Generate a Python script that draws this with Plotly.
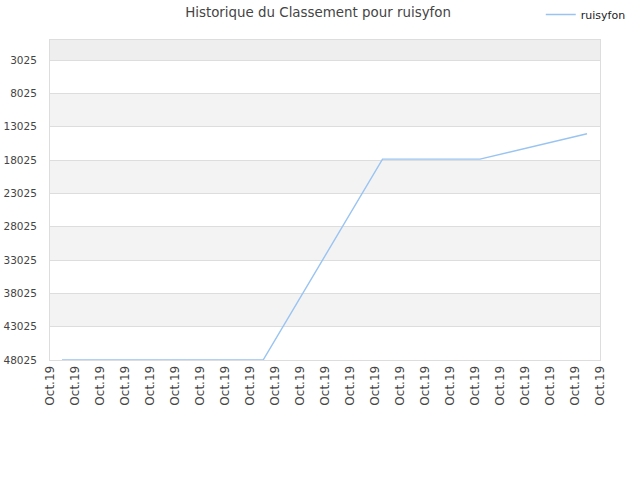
import plotly.graph_objects as go

# data (x in tick units, y = rank)
x_pos = [0.48, 8.53, 13.3, 17.2, 21.48]
ranks = [48000, 48000, 17900, 17900, 14080]

tick_vals = [3025, 8025, 13025, 18025, 23025, 28025, 33025, 38025, 43025, 48025]
tick_text = [str(v) for v in tick_vals]
x_ticks = list(range(23))
x_labels = ["Oct.19"] * 23

fig = go.Figure()

# alternating bands
shapes = [dict(type="rect", xref="paper", yref="y", x0=0, x1=1, y0=25, y1=3025,
               fillcolor="#eeeeee", line_width=0, layer="below")]
for i in range(1, len(tick_vals) - 1, 2):
    shapes.append(dict(type="rect", xref="paper", yref="y", x0=0, x1=1,
                       y0=tick_vals[i], y1=tick_vals[i + 1],
                       fillcolor="#f3f3f3", line_width=0, layer="below"))

fig.add_trace(go.Scatter(
    x=x_pos, y=ranks, mode="lines", name="ruisyfon",
    line=dict(color="#99c4f2", width=1.4),
))

fig.update_layout(
    width=640, height=480,
    margin=dict(l=50, r=40, t=40, b=120, autoexpand=False),
    plot_bgcolor="white", paper_bgcolor="white",
    font=dict(family="DejaVu Sans", size=11, color="#444"),
    title=dict(text="Historique du Classement pour ruisyfon", x=0.497, xref="container",
               y=0.984, yref="container", xanchor="center", yanchor="top",
               font=dict(size=13.4, color="#444")),
    showlegend=True,
    legend=dict(x=0.845, y=1.003, xref="container", yref="container",
                xanchor="left", yanchor="top", itemwidth=30,
                font=dict(size=11, color="#222"), bgcolor="rgba(0,0,0,0)"),
    shapes=shapes,
    xaxis=dict(range=[0, 22], tickvals=x_ticks, ticktext=x_labels, tickangle=-90,
               showgrid=False, zeroline=False, showline=True, linecolor="#ddd",
               mirror=True, ticks="", automargin=False,
               tickfont=dict(size=12, color="#444")),
    yaxis=dict(range=[48025, 25], tickvals=tick_vals, ticktext=tick_text, showgrid=True,
               gridcolor="#dddddd", zeroline=False, showline=True, linecolor="#ddd",
               mirror=True, ticks="", automargin=False, ticklabelstandoff=10,
               tickfont=dict(size=10.5, color="#444")),
)

fig.write_html("out.html", config={"displayModeBar": False},
               post_script="document.body.style.margin='0';")
